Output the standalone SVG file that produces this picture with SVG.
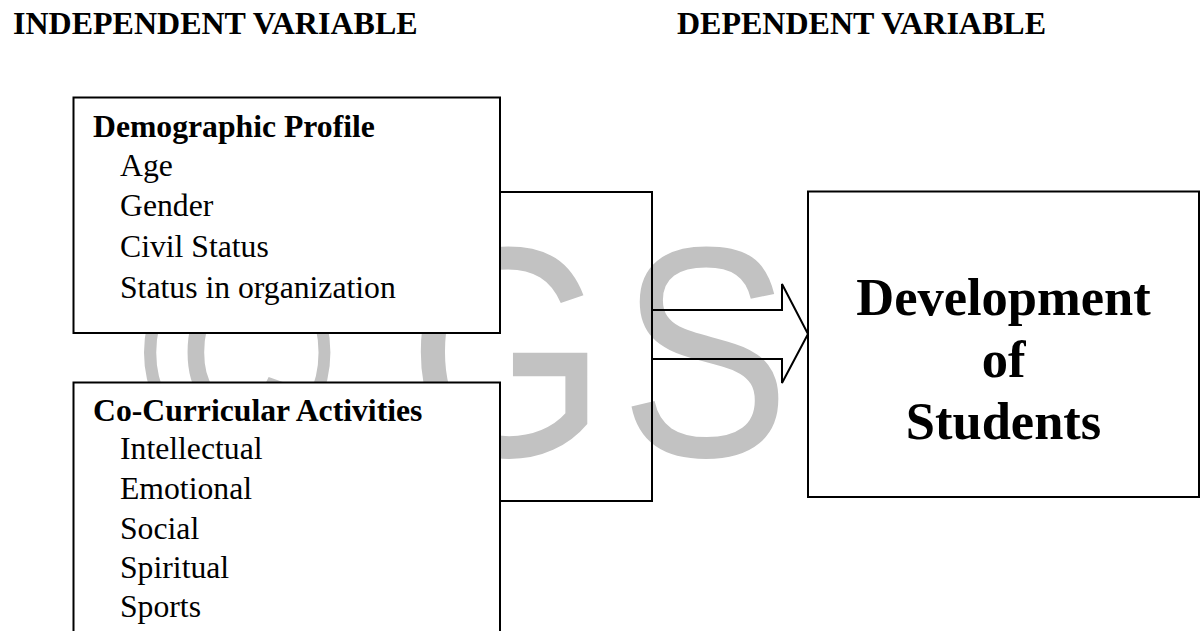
<svg xmlns="http://www.w3.org/2000/svg" width="1201" height="631" viewBox="0 0 1201 631">
<style>
.hdr{font-family:"Liberation Serif","Times New Roman",serif;font-weight:bold;font-size:32px;fill:#000}
.head{font-family:"Liberation Serif","Times New Roman",serif;font-weight:bold;font-size:31.7px;fill:#000}
.item{font-family:"Liberation Serif","Times New Roman",serif;font-size:31.7px;fill:#000}
.big{font-family:"Liberation Serif","Times New Roman",serif;font-weight:bold;font-size:52.5px;fill:#000}
.box{fill:#fff;stroke:#000;stroke-width:2}
.wm{font-family:"Liberation Sans",Arial,sans-serif;font-size:300px;fill:#c2c2c2}
.conn{fill:none;stroke:#000;stroke-width:2}
</style>
<rect width="1201" height="631" fill="#fff"/>
<g id="watermark">
<text class="wm" transform="translate(140,456) scale(0.88,1)">©</text>
<text class="wm" transform="translate(408,456) scale(0.85,1)" letter-spacing="16">GS</text>
</g>
<g id="headers">
<text class="hdr" x="13" y="34">INDEPENDENT VARIABLE</text>
<text class="hdr" x="677" y="34">DEPENDENT VARIABLE</text>
</g>
<g id="connectors">
<polyline class="conn" points="500,192 652,192 652,501 500,501"/>
<path class="conn" fill="#fff" d="M652,310 H782 V284 L808,334 L782,383 V359 H652"/>
</g>
<g id="demographic">
<rect class="box" x="73.5" y="97.5" width="426.5" height="235.5"/>
<text class="head" x="93" y="137">Demographic Profile</text>
<text class="item" x="120" y="176">Age</text>
<text class="item" x="120" y="216">Gender</text>
<text class="item" x="120" y="257">Civil Status</text>
<text class="item" x="120" y="298">Status in organization</text>
</g>
<g id="cocurricular">
<rect class="box" x="73.5" y="382.5" width="426.5" height="260"/>
<text class="head" x="93" y="421">Co-Curricular Activities</text>
<text class="item" x="120" y="459">Intellectual</text>
<text class="item" x="120" y="499">Emotional</text>
<text class="item" x="120" y="539">Social</text>
<text class="item" x="120" y="578">Spiritual</text>
<text class="item" x="120" y="617">Sports</text>
</g>
<g id="development">
<rect class="box" x="808" y="191.5" width="391" height="305.5"/>
<text class="big" x="1003.5" y="315" text-anchor="middle">Development</text>
<text class="big" x="1003.5" y="377" text-anchor="middle">of</text>
<text class="big" x="1003.5" y="439" text-anchor="middle">Students</text>
</g>
</svg>
